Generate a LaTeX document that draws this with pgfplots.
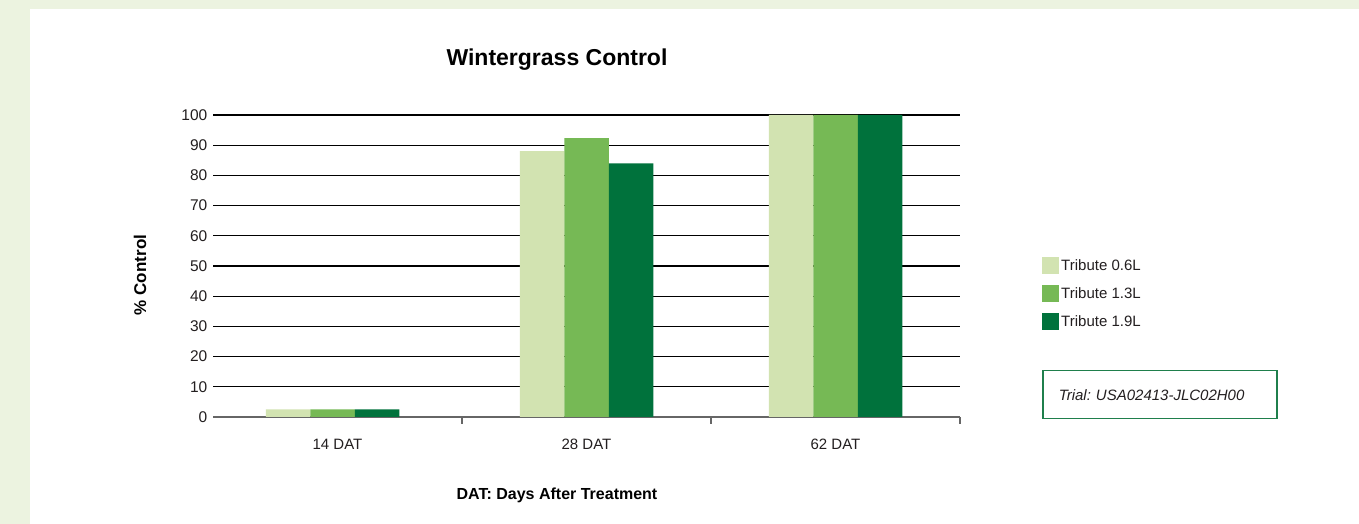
\documentclass[border=0pt]{standalone}
\usepackage{fontspec}
\setmainfont{Liberation Sans}
\usepackage{pgfplots}
\pgfplotsset{compat=1.18}
\definecolor{bgc}{HTML}{ECF3E0}
\definecolor{cA}{HTML}{D2E3B1}
\definecolor{cB}{HTML}{76B955}
\definecolor{cC}{HTML}{00723C}
\definecolor{txt}{HTML}{231F20}
\definecolor{boxg}{HTML}{1F7F4C}
\frenchspacing
\begin{document}
\begin{tikzpicture}[x=1pt,y=1pt]
\path[use as bounding box] (0,0) rectangle (1359,524);
\fill[bgc] (0,0) rectangle (1359,524);
\fill[white] (30,0) rectangle (1359,515);
\begin{axis}[
  at={(213pt,107pt)}, anchor=south west,
  scale only axis, width=747pt, height=302pt,
  xmin=-0.5, xmax=2.5, ymin=0, ymax=100,
  axis x line=bottom, axis y line=left,
  y axis line style={draw=none},
  x axis line style={draw=black!60, line width=2pt, -},
  ytick={0,10,...,100},
  ytick style={draw=none},
  ymajorgrids, grid style={black, line width=1.2pt},
  xtick={0,1,2},
  xticklabels={14 DAT,28 DAT,62 DAT},
  major x tick style={draw=none},
  extra x ticks={0.5,1.5,2.5},
  extra x tick labels={},
  extra x tick style={major tick length=7pt, tick align=outside, major x tick style={draw=black!60, line width=1.5pt}},
  /pgf/number format/assume math mode=true,
  yticklabel style={font=\fontsize{15.5}{17}\selectfont, text=txt},
  xticklabel style={font=\fontsize{15}{17}\selectfont, text=txt, yshift=-14pt},
  ybar=0pt, bar width=44.5pt,
  legend style={at={(1.1098,0.53)}, anchor=north west, draw=none, fill=none,
    font=\fontsize{15}{17}\selectfont, text=txt, row sep=11pt, inner sep=0pt},
  legend cell align=left,
  legend image code/.code={\fill[#1,draw=none] (0pt,-8.5pt) rectangle (17pt,8.5pt);},
  /tikz/every even column/.append style={column sep=0pt},
]
\addplot[fill=cA, draw=none] coordinates {(-0.02,2.5) (1,88) (2,100)};
\addplot[fill=cB, draw=none] coordinates {(-0.02,2.5) (1,92.3) (2,100)};
\addplot[fill=cC, draw=none] coordinates {(-0.02,2.5) (1,84) (2,100)};
\legend{Tribute 0.6L,Tribute 1.3L,Tribute 1.9L}
\end{axis}
\node[anchor=base, font=\fontsize{23}{26}\selectfont\bfseries] at (557,458) {Wintergrass Control};
\node[rotate=90, font=\fontsize{17}{19}\selectfont\bfseries] at (140,249) {\% Control};
\node[font=\fontsize{16}{18}\selectfont\bfseries] at (557,29) {DAT: Days After Treatment};
\node[draw=boxg, line width=1.5pt, anchor=north west, minimum height=48pt, text width=202pt, inner xsep=16pt, align=left, font=\fontsize{15}{17}\selectfont\itshape, text=txt] at (1042,154) {Trial: USA02413-JLC02H00};
\end{tikzpicture}
\end{document}
